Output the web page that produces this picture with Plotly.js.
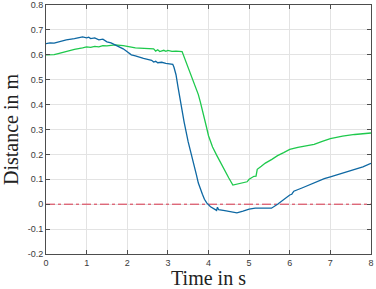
<!DOCTYPE html>
<html><head><meta charset="utf-8">
<script src="https://cdn.plot.ly/plotly-3.0.1.min.js"></script>
<style>html,body{margin:0;padding:0;background:#fff}#c{width:376px;height:289px}</style>
</head><body><div id="c"></div>
<script>
const blueT = [0,0.1,0.2,0.35,0.5,0.7,0.85,0.9,1.0,1.05,1.1,1.2,1.3,1.4,1.5,1.6,1.7,1.8,1.9,2.0,2.05,2.1,2.2,2.3,2.4,2.5,2.6,2.65,2.7,2.75,2.85,2.95,3.05,3.12,3.15,3.2,3.25,3.3,3.4,3.5,3.55,3.6,3.65,3.7,3.75,3.8,3.85,3.9,3.96,4.05,4.15,4.2,4.22,4.25,4.4,4.55,4.7,4.85,5.0,5.15,5.3,5.55,5.7,5.85,6.0,6.05,6.1,6.3,6.5,6.7,6.85,7.0,7.3,7.6,7.8,8.0];
const blueD = [0.645,0.648,0.647,0.655,0.66,0.665,0.668,0.672,0.668,0.671,0.665,0.668,0.66,0.663,0.652,0.648,0.64,0.632,0.624,0.612,0.604,0.6,0.596,0.59,0.586,0.582,0.578,0.571,0.574,0.568,0.57,0.566,0.565,0.562,0.55,0.52,0.47,0.42,0.33,0.25,0.22,0.19,0.16,0.12,0.085,0.06,0.04,0.02,0.004,-0.01,-0.018,-0.025,-0.012,-0.022,-0.026,-0.03,-0.035,-0.028,-0.02,-0.016,-0.016,-0.016,0.0,0.02,0.037,0.04,0.052,0.065,0.08,0.095,0.103,0.11,0.125,0.14,0.15,0.164];
const greenT = [0,0.2,0.3,0.5,0.7,0.9,1.0,1.1,1.2,1.3,1.4,1.5,1.7,1.9,2.0,2.1,2.2,2.3,2.5,2.65,2.7,2.75,2.8,2.9,2.95,3.0,3.1,3.2,3.35,3.45,3.55,3.65,3.75,3.8,3.85,3.9,3.95,4.0,4.05,4.1,4.2,4.3,4.4,4.5,4.6,4.7,4.8,4.95,5.0,5.12,5.17,5.2,5.3,5.4,5.56,5.7,5.85,6.0,6.2,6.4,6.6,6.8,6.9,7.0,7.3,7.6,8.0];
const greenD = [0.6,0.601,0.605,0.614,0.622,0.628,0.632,0.63,0.634,0.632,0.637,0.636,0.64,0.637,0.633,0.63,0.628,0.627,0.626,0.624,0.615,0.62,0.613,0.618,0.614,0.618,0.614,0.615,0.613,0.57,0.53,0.48,0.44,0.41,0.38,0.34,0.31,0.275,0.25,0.23,0.197,0.165,0.135,0.105,0.077,0.08,0.086,0.09,0.1,0.112,0.113,0.14,0.152,0.165,0.18,0.195,0.207,0.22,0.228,0.235,0.24,0.252,0.257,0.263,0.273,0.28,0.286];
const refT = [0, 8];
const refD = [0, 0];
const xTicks = [0,1,2,3,4,5,6,7,8];
const yTicks = [-0.2,-0.1,0,0.1,0.2,0.3,0.4,0.5,0.6,0.7,0.8];
const yTickText = ['-0.2','-0.1','0','0.1','0.2','0.3','0.4','0.5','0.6','0.7','0.8'];

const traces = [
  {x: refT, y: refD, mode:'lines', line:{color:'#d9334a', width:1, dash:'dashdot'}, hoverinfo:'skip'},
  {x: greenT, y: greenD, mode:'lines', line:{color:'#1ec94c', width:1.3}},
  {x: blueT, y: blueD, mode:'lines', line:{color:'#0e68a3', width:1.3}}
];
const axisCommon = {
  showline:true, mirror:'ticks', linecolor:'#4d4d4d', linewidth:1,
  ticks:'inside', ticklen:4, tickcolor:'#4d4d4d',
  showgrid:true, gridcolor:'#e3e3e3', gridwidth:1, zeroline:false,
  ticklabeloverflow:'allow',
  tickfont:{family:'Liberation Sans, Arial, sans-serif', size:9, color:'#3a3a3a'}
};
const titleFont = {family:'Liberation Serif, Times New Roman, serif', size:20, color:'#222'};
const layout = {
  width:376, height:289, showlegend:false,
  margin:{l:46, r:5, t:5, b:35},
  paper_bgcolor:'#fff', plot_bgcolor:'#fff',
  xaxis: Object.assign({}, axisCommon, {range:[-0.00001,8.00001], tickvals:xTicks, ticktext:xTicks.map(String),
    title:{text:'Time in s', font:titleFont, standoff:3}}),
  yaxis: Object.assign({}, axisCommon, {range:[-0.200001,0.800001], tickvals:yTicks, ticktext:yTickText,
    title:{text:'Distance in m', font:titleFont, standoff:5}})
};
Plotly.newPlot('c', traces, layout, {staticPlot:true, displayModeBar:false});
</script></body></html>
